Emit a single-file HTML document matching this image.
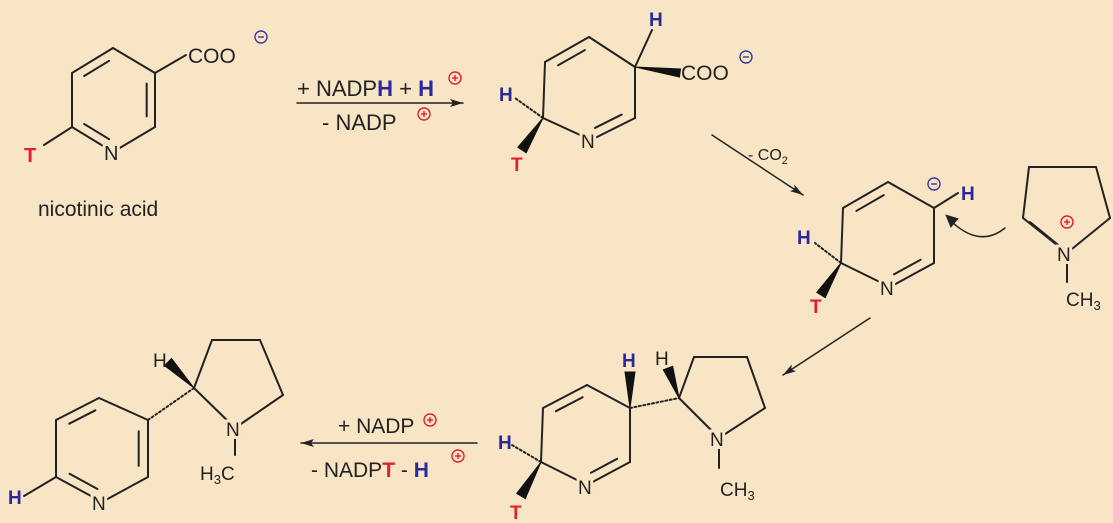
<!DOCTYPE html>
<html><head><meta charset="utf-8"><style>
html,body{margin:0;padding:0;background:#f7e5c5;}
svg{display:block}
text{font-family:"Liberation Sans",Arial,sans-serif;}
.lb{paint-order:stroke;stroke:#f7e5c5;stroke-width:6px;}
</style></head><body>
<svg id="s" width="1113" height="523" viewBox="0 0 1113 523" xmlns="http://www.w3.org/2000/svg">
<rect width="1113" height="523" fill="#f7e5c5"/>
<g id="g" stroke="#222" stroke-width="2" fill="none" stroke-linecap="round"></g>
<g id="t" font-size="19" fill="#222">
<text x="188" y="63" font-size="21">COO</text>
<text class="lb" x="104" y="160" font-size="20">N</text>
<text x="24" y="162" font-size="20" fill="#e0202a" font-weight="bold">T</text>
<text x="38" y="216" font-size="21">nicotinic acid</text>
<text x="297" y="96" font-size="22">+ NADP<tspan fill="#2a2a9a" font-weight="bold">H</tspan> + <tspan fill="#2a2a9a" font-weight="bold">H</tspan></text>
<text x="322" y="130" font-size="22">-  NADP</text>
<text x="681" y="80" font-size="21">COO</text>
<text class="lb" x="581" y="148" font-size="19">N</text>
<text x="649" y="26" font-size="19" fill="#2a2a9a" font-weight="bold">H</text>
<text x="499" y="101" font-size="19" fill="#2a2a9a" font-weight="bold">H</text>
<text x="511" y="171" font-size="19" fill="#e0202a" font-weight="bold">T</text>
<text x="748" y="160" font-size="16">- CO<tspan font-size="11" dy="4">2</tspan></text>
<text class="lb" x="880" y="295" font-size="19">N</text>
<text x="961" y="200" font-size="19" fill="#2a2a9a" font-weight="bold">H</text>
<text x="797" y="244" font-size="19" fill="#2a2a9a" font-weight="bold">H</text>
<text x="810" y="313" font-size="19" fill="#e0202a" font-weight="bold">T</text>
<text class="lb" x="1057" y="261" font-size="19">N</text>
<text x="1066" y="306" font-size="19">CH<tspan font-size="13" dy="4">3</tspan></text>
<text class="lb" x="92" y="510" font-size="19">N</text>
<text x="8" y="504" font-size="19" fill="#2a2a9a" font-weight="bold">H</text>
<text x="153" y="367" font-size="19">H</text>
<text class="lb" x="226" y="436" font-size="19">N</text>
<text x="200" y="480" font-size="19">H<tspan font-size="13" dy="4">3</tspan><tspan dy="-4">C</tspan></text>
<text x="338" y="433" font-size="21">+ NADP</text>
<text x="311" y="477" font-size="21">- NADP<tspan fill="#e0202a" font-weight="bold">T</tspan> - <tspan fill="#2a2a9a" font-weight="bold">H</tspan></text>
<text class="lb" x="578" y="494" font-size="19">N</text>
<text x="622" y="367" font-size="19" fill="#2a2a9a" font-weight="bold">H</text>
<text x="655" y="365" font-size="19">H</text>
<text x="498" y="449" font-size="19" fill="#2a2a9a" font-weight="bold">H</text>
<text x="510" y="519" font-size="19" fill="#e0202a" font-weight="bold">T</text>
<text class="lb" x="710" y="446" font-size="19">N</text>
<text x="720" y="496" font-size="19">CH<tspan font-size="13" dy="4">3</tspan></text>
</g>
<g id="c" fill="none" stroke-width="1.5"></g>
</svg>
<script>
var NS="http://www.w3.org/2000/svg",g=document.getElementById('g'),cg=document.getElementById('c');
function el(tag,a,p){var e=document.createElementNS(NS,tag);for(var k in a)e.setAttribute(k,a[k]);(p||g).appendChild(e);return e;}
function L(a,b,x){var o={x1:a[0],y1:a[1],x2:b[0],y2:b[1]};if(x)for(var k in x)o[k]=x[k];el('line',o);}
function ring(p,dbl){var n=p.length,cx=0,cy=0;p.forEach(function(q){cx+=q[0];cy+=q[1];});cx/=n;cy/=n;
 for(var i=0;i<n;i++){L(p[i],p[(i+1)%n]);}
 dbl.forEach(function(i){var a=p[i],b=p[(i+1)%n];
  var a2=[cx+0.8*(a[0]-cx),cy+0.8*(a[1]-cy)],b2=[cx+0.8*(b[0]-cx),cy+0.8*(b[1]-cy)];
  var dx=b2[0]-a2[0],dy=b2[1]-a2[1];
  L([a2[0]+dx*.12,a2[1]+dy*.12],[b2[0]-dx*.12,b2[1]-dy*.12]);});}
function wedge(a,b,w){var dx=b[0]-a[0],dy=b[1]-a[1],l=Math.hypot(dx,dy),nx=-dy/l*w,ny=dx/l*w;
 el('polygon',{points:a[0]+','+a[1]+' '+(b[0]+nx)+','+(b[1]+ny)+' '+(b[0]-nx)+','+(b[1]-ny),fill:'#111',stroke:'#111','stroke-width':1});}
function dash(a,b){L(a,b,{'stroke-dasharray':'2,2.5'});}
function arrow(a,b){L(a,b,{'stroke-width':1.5});var dx=b[0]-a[0],dy=b[1]-a[1],l=Math.hypot(dx,dy),ux=dx/l,uy=dy/l;
 var p1=[b[0]-ux*13+uy*4,b[1]-uy*13-ux*4],p2=[b[0]-ux*13-uy*4,b[1]-uy*13+ux*4];
 el('polygon',{points:b[0]+','+b[1]+' '+p1+' '+(b[0]-ux*10)+','+(b[1]-uy*10)+' '+p2,fill:'#222',stroke:'none'});}
function chg(x,y,plus,col){el('circle',{cx:x,cy:y,r:6,stroke:col,'stroke-width':1.4,fill:'none'},cg);
 el('line',{x1:x-3,y1:y,x2:x+3,y2:y,stroke:col,'stroke-width':1.4},cg);
 if(plus)el('line',{x1:x,y1:y-3,x2:x,y2:y+3,stroke:col,'stroke-width':1.4},cg);}
ring([[113,48],[72,73],[72,127],[113,152],[155,127],[155,73]],[0,2,4]);
L([155,73],[186,55]);L([72,127],[44,145]);
chg(261,37,false,'#3a3a9a');
arrow([297,103],[463,103]);chg(455,78,true,'#e0202a');chg(424,114,true,'#e0202a');
ring([[589,37],[545,62],[543,118],[591,140],[635,118],[635,67]],[0,3]);
L([635,67],[652,30]);wedge([635,67],[680,73],4);dash([543,118],[515,98]);wedge([543,118],[522,150],5);
chg(746,57,false,'#3a3a9a');
arrow([712,135],[803,195]);
ring([[888,182],[843,208],[841,263],[890,287],[934,263],[934,208]],[0,3]);
L([934,208],[958,193]);dash([841,263],[815,243]);wedge([841,263],[821,295],5);
chg(934,184,false,'#3a3a9a');
el('path',{d:'M1005,228 Q980,248 952,222',fill:'none',stroke:'#222','stroke-width':1.5});
el('polygon',{points:'947,216 957,219 951,226',fill:'#222'});
ring([[1029,167],[1096,167],[1110,218],[1067,253],[1023,218]],[]);
L([1030,222],[1062,248]);L([1067,253],[1067,282]);chg(1067,222,true,'#e0202a');
arrow([870,318],[783,375]);
ring([[99,398],[56,420],[56,477],[102,502],[148,477],[148,420]],[0,2,4]);
L([56,477],[24,496]);dash([148,420],[194,388]);
ring([[194,388],[212,340],[260,340],[283,395],[235,428]],[]);
wedge([194,388],[168,362],5);L([235,428],[235,455]);
arrow([477,443],[301,443]);chg(430,420,true,'#e0202a');chg(458,456,true,'#e0202a');
ring([[587,385],[543,408],[541,462],[587,485],[630,462],[630,408]],[0,3]);
wedge([630,408],[630,372],5);dash([630,408],[679,398]);
ring([[679,398],[694,357],[747,357],[765,408],[719,438]],[]);
wedge([679,398],[668,368],5);L([719,438],[719,468]);
dash([541,462],[512,445]);wedge([541,462],[521,496],5);
</script>
</body></html>
